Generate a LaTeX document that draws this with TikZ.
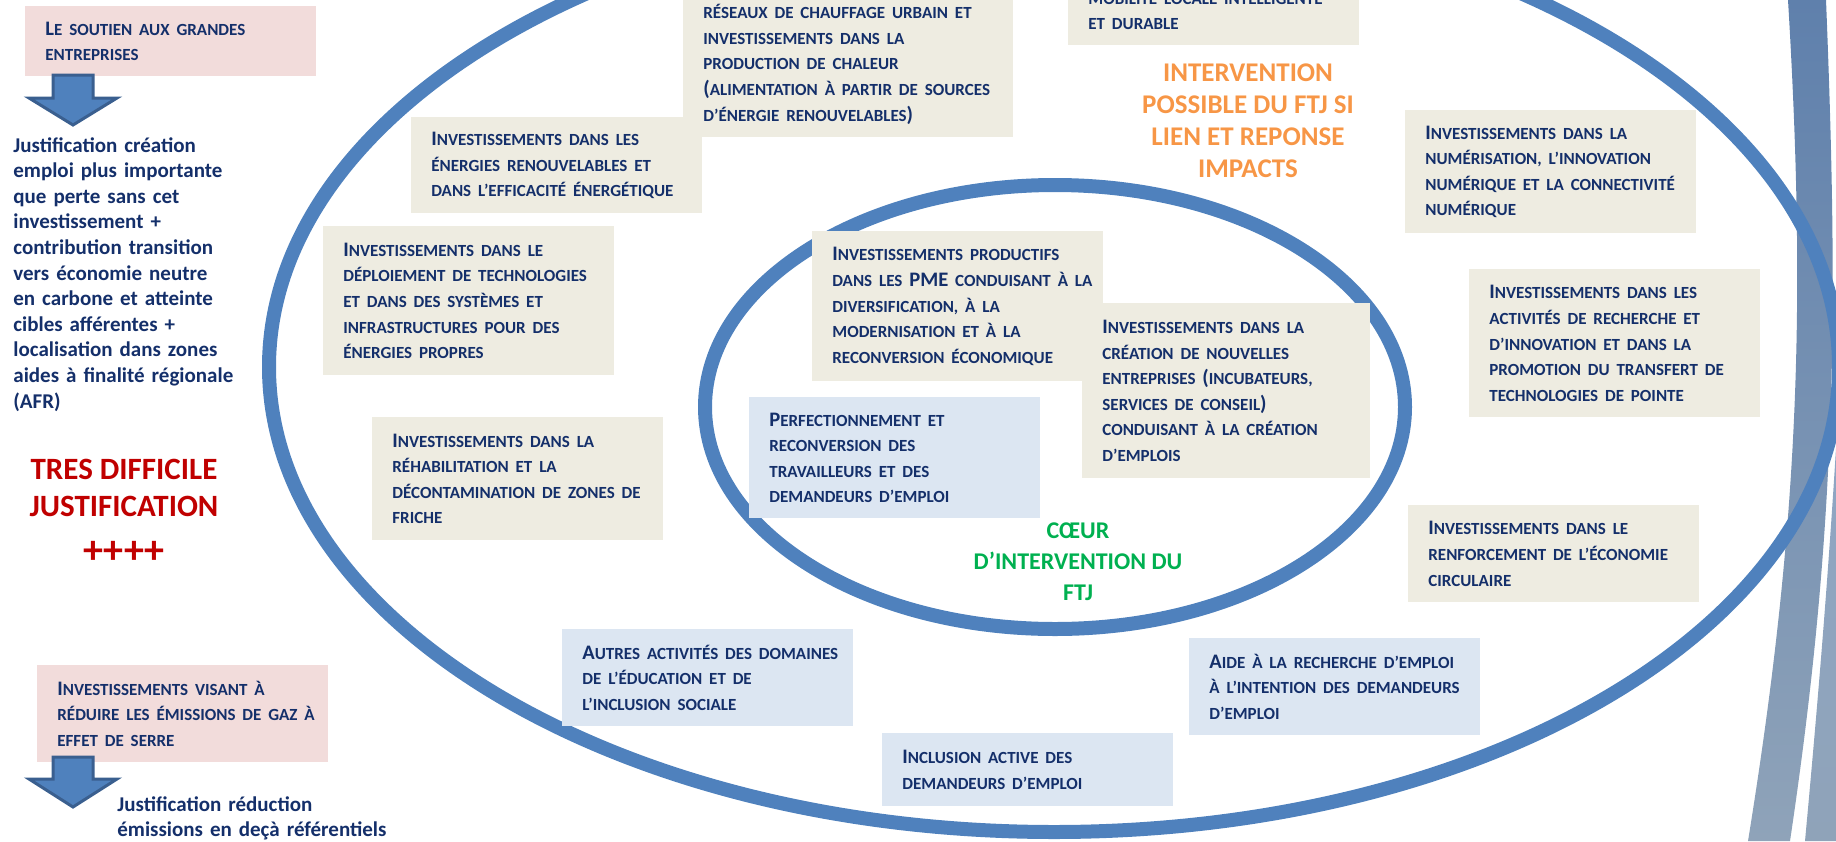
\documentclass[tikz,border=0pt]{standalone}
\usepackage{fontspec}
\setmainfont{Carlito}
\definecolor{ftjblue}{HTML}{4F81BD}
\definecolor{ftjblueborder}{HTML}{3A5F8F}
\definecolor{textnavy}{HTML}{142F6A}
\definecolor{beigefill}{HTML}{EEECE1}
\definecolor{pinkfill}{HTML}{F2DCDB}
\definecolor{bluefill}{HTML}{DCE6F2}
\definecolor{alertred}{HTML}{C00000}
\definecolor{possorange}{HTML}{F79646}
\definecolor{coeurgreen}{HTML}{00B050}
\definecolor{bandtop}{HTML}{5F80AC}
\definecolor{bandbottom}{HTML}{8FA3B9}

% small capitals, faked with smaller upper case letters
\newcommand{\smc}[1]{\mbox{\fontsize{8.5}{12.8}\selectfont\MakeUppercase{#1}}}

\begin{document}
\begin{tikzpicture}[
    x=0.5pt, y=-0.5pt,
    ring/.style={draw=ftjblue, line width=7pt},
    textbox/.style={
        anchor=north west, inner xsep=10pt, inner ysep=0pt,
        text width=125.5pt, align=left, text=textnavy,
        font=\fontsize{10.3}{12.8}\selectfont\bfseries,
    },
    beigebox/.style={textbox, fill=beigefill},
    pinkbox/.style={textbox, fill=pinkfill},
    bluebox/.style={textbox, fill=bluefill},
    blockarrow/.style={fill=ftjblue, draw=ftjblueborder, line width=1.5pt},
    note/.style={
        anchor=base west, inner sep=0pt, align=left, text=textnavy,
        font=\fontsize{10.5}{12.8}\selectfont\bfseries,
    },
    zonetitle/.style={align=center, inner sep=0pt},
]

\clip (0,0) rectangle (1836,841);

% =============================================
% Decorative bands (right edge)
% =============================================
\shade[top color=bandtop, bottom color=bandbottom]
    (1788,0) .. controls (1806,300) and (1800,520) .. (1748,841)
    -- (1790,841) .. controls (1838,520) and (1838,300) .. (1826,0) -- cycle;
\shade[top color=bandtop!70!white, bottom color=bandbottom]
    (1840,380) .. controls (1830,560) and (1818,700) .. (1805,841)
    -- (1840,841) -- cycle;

% =============================================
% Rings: possible intervention / core
% =============================================
\draw[ring] (1054,367) ellipse [x radius=785, y radius=465];
\draw[ring] (1055,407) ellipse [x radius=350, y radius=222];

% =============================================
% Left column
% =============================================
\node[pinkbox, minimum height=35pt] (soutien) at (25,6)
    {L\smc{e soutien aux grandes}\\ \smc{entreprises}};

\filldraw[blockarrow] (53,75) -- (93,75) -- (93,98) -- (117,98)
    -- (73,125) -- (29,98) -- (53,98) -- cycle;

\node[note, text width=130pt] (afr) at (13,152) {%
  Justification création\\
  emploi plus importante\\
  que perte sans cet\\
  investissement +\\
  contribution transition\\
  vers économie neutre\\
  en carbone et atteinte\\
  cibles afférentes +\\
  localisation dans zones\\
  aides à finalité régionale\\
  (AFR)};

\node[zonetitle, text=alertred, font=\fontsize{15.5}{18.5}\selectfont\bfseries]
    (difficile) at (124,488) {TRES DIFFICILE\\ JUSTIFICATION};
\node[zonetitle, text=alertred, font=\fontsize{20}{22}\selectfont\bfseries]
    (plusplus) at (124,552) {++++};

\node[pinkbox, minimum height=48.5pt] (serre) at (37,665)
    {I\smc{nvestissements visant à}\\ \smc{réduire les émissions de gaz à}\\ \smc{effet de serre}};

\filldraw[blockarrow] (53,757) -- (93,757) -- (93,779) -- (117,779)
    -- (73,807) -- (29,779) -- (53,779) -- cycle;

\node[note, text width=150pt] (referentiels) at (117,811)
    {Justification réduction\\ émissions en deçà référentiels};

% =============================================
% Outer ring boxes
% =============================================
\node[beigebox, text width=145pt, minimum height=73pt] (reseaux) at (683,-9) {%
  \smc{réseaux de chauffage urbain et}\\
  \smc{investissements dans la}\\
  \smc{production de chaleur}\\
  (\smc{alimentation à partir de sources}\\
  \smc{d’énergie renouvelables})};

\node[beigebox, minimum height=35.5pt] (mobilite) at (1068,-26)
    {\smc{mobilité locale intelligente}\\ \smc{et durable}};

\node[beigebox, minimum height=48pt] (renouvelables) at (411,117)
    {I\smc{nvestissements dans les}\\ \smc{énergies renouvelables et}\\ \smc{dans l’efficacité énergétique}};

\node[beigebox, minimum height=74.5pt] (deploiement) at (323,226) {%
  I\smc{nvestissements dans le}\\
  \smc{déploiement de technologies}\\
  \smc{et dans des systèmes et}\\
  \smc{infrastructures pour des}\\
  \smc{énergies propres}};

\node[beigebox, minimum height=61.5pt] (friche) at (372,417) {%
  I\smc{nvestissements dans la}\\
  \smc{réhabilitation et la}\\
  \smc{décontamination de zones de}\\
  \smc{friche}};

\node[beigebox, minimum height=61.5pt] (numerique) at (1405,110) {%
  I\smc{nvestissements dans la}\\
  \smc{numérisation, l’innovation}\\
  \smc{numérique et la connectivité}\\
  \smc{numérique}};

\node[beigebox, minimum height=74pt] (recherche) at (1469,269) {%
  I\smc{nvestissements dans les}\\
  \smc{activités de recherche et}\\
  \smc{d’innovation et dans la}\\
  \smc{promotion du transfert de}\\
  \smc{technologies de pointe}};

\node[beigebox, minimum height=48.5pt] (circulaire) at (1408,505)
    {I\smc{nvestissements dans le}\\ \smc{renforcement de l’économie}\\ \smc{circulaire}};

\node[bluebox, minimum height=48.5pt] (aide) at (1189,638)
    {A\smc{ide à la recherche d’emploi}\\ \smc{à l’intention des demandeurs}\\ \smc{d’emploi}};

\node[bluebox, minimum height=48.5pt] (autres) at (562,629)
    {A\smc{utres activités des domaines}\\ \smc{de l’éducation et de}\\ \smc{l’inclusion sociale}};

\node[bluebox, minimum height=36.5pt] (inclusion) at (882,733)
    {I\smc{nclusion active des}\\ \smc{demandeurs d’emploi}};

\node[zonetitle, text=possorange, font=\fontsize{13.5}{16}\selectfont\bfseries]
    (possible) at (1248,121) {INTERVENTION\\ POSSIBLE DU FTJ SI\\ LIEN ET REPONSE\\ IMPACTS};

% =============================================
% Core ring boxes
% =============================================
\node[beigebox, minimum height=75pt] (pme) at (812,231) {%
  I\smc{nvestissements productifs}\\
  \mbox{\smc{dans les} PME \smc{conduisant à la}}\\
  \smc{diversification, à la}\\
  \smc{modernisation et à la}\\
  \smc{reconversion économique}};

\node[beigebox, text width=124pt, minimum height=87.5pt] (creation) at (1082,303) {%
  I\smc{nvestissements dans la}\\
  \smc{création de nouvelles}\\
  \mbox{\smc{entreprises} (\smc{incubateurs,}}\\
  \smc{services de conseil})\\
  \smc{conduisant à la création}\\
  \smc{d’emplois}};

\node[bluebox, minimum height=60.5pt] (perfectionnement) at (749,397) {%
  P\smc{erfectionnement et}\\
  \smc{reconversion des}\\
  \smc{travailleurs et des}\\
  \smc{demandeurs d’emploi}};

\node[zonetitle, text=coeurgreen, font=\fontsize{12}{15.5}\selectfont\bfseries]
    (coeur) at (1078,562) {CŒUR\\ D’INTERVENTION DU\\ FTJ};

\end{tikzpicture}
\end{document}
